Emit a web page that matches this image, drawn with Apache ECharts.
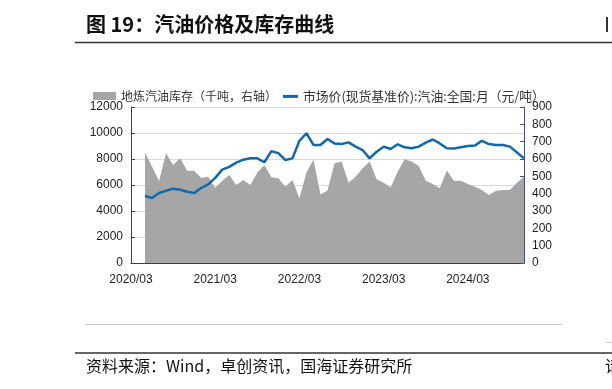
<!DOCTYPE html>
<html>
<head>
<meta charset="utf-8">
<script src="https://cdn.jsdelivr.net/npm/echarts@6/dist/echarts.min.js"></script>
<style>
html,body{margin:0;padding:0;background:#fff;}
#chart{width:612px;height:389px;}
</style>
</head>
<body>
<div id="chart"></div>
<script>
// Months 2020/03 .. 2024/11
var categories = [];
(function(){
  var y = 2020, m = 3;
  for (var i = 0; i < 57; i++) {
    categories.push(y + '/' + (m < 10 ? '0' + m : '' + m));
    m++; if (m > 12) { m = 1; y++; }
  }
})();

// 市场价(现货基准价):汽油:全国:月 (元/吨), left axis
var priceValues = [null, null,
  5150, 5000, 5380, 5560, 5720, 5640, 5480, 5390, 5770, 6050,
  6550, 7180, 7400, 7720, 7950, 8050, 8050, 7750, 8600, 8450,
  7920, 8050, 9400, 9980, 9080, 9080, 9540, 9200, 9150, 9280,
  8950, 8690, 8050, 8560, 8950, 8770, 9130, 8900, 8820, 8950,
  9260, 9500, 9200, 8820, 8800, 8900, 9000, 9030, 9400, 9150,
  9080, 9080, 8950, 8500, 8050];

// 地炼汽油库存 (千吨), right axis
var stockValues = [null, null,
  636, 555, 473, 633, 565, 604, 532, 532, 490, 498,
  434, 475, 508, 450, 479, 450, 522, 565, 495, 489,
  440, 479, 373, 522, 596, 395, 418, 575, 585, 463,
  498, 546, 585, 483, 463, 436, 527, 598, 585, 560,
  475, 456, 431, 533, 475, 475, 456, 440, 421, 392,
  417, 421, 421, 463, 498];

var leftTicks = {min: 0, max: 12000, interval: 2000};
var rightTicks = {min: 0, max: 900, interval: 100};

var stockName = '地炼汽油库存（千吨，右轴）';
var priceName = '市场价(现货基准价):汽油:全国:月（元/吨）';

var chart = echarts.init(document.getElementById('chart'), null, {renderer: 'canvas'});
var axisFont = {fontFamily: 'Liberation Sans, Arial, sans-serif', fontSize: 12, color: '#222'};
var cjk = '"Noto Sans CJK SC", sans-serif';
var plain = function(v){ return String(v); };

chart.setOption({
  animation: false,
  backgroundColor: '#fff',
  grid: {left: 131, right: 88, top: 107, bottom: 126, containLabel: false},
  legend: [
    {
      left: 88, top: 85, itemWidth: 23, itemHeight: 8, itemGap: 4,
      textStyle: {fontFamily: cjk, fontSize: 12, color: '#333'},
      data: [{name: stockName, icon: 'rect', itemStyle: {color: '#a6a6a6'}}]
    },
    {
      left: 278, top: 85, itemWidth: 15, itemHeight: 3, itemGap: 4,
      textStyle: {fontFamily: cjk, fontSize: 12.8, color: '#333'},
      data: [{name: priceName, icon: 'rect', itemStyle: {color: '#1268ad'}}]
    }
  ],
  xAxis: {
    type: 'category',
    data: categories,
    boundaryGap: false,
    axisLine: {lineStyle: {color: '#404040', width: 1}},
    axisTick: {inside: true, length: 4, lineStyle: {color: '#404040'},
      interval: function(i){ return i % 12 === 0; }},
    axisLabel: Object.assign({margin: 11, interval: function(i){ return i % 12 === 0; }}, axisFont),
    splitLine: {show: false}
  },
  yAxis: [
    {
      type: 'value', min: leftTicks.min, max: leftTicks.max, interval: leftTicks.interval,
      axisLine: {show: true, lineStyle: {color: '#404040', width: 1}},
      axisTick: {show: true, inside: true, length: 4, lineStyle: {color: '#404040'}},
      axisLabel: Object.assign({margin: 8, formatter: plain}, axisFont),
      splitLine: {show: true, lineStyle: {color: '#d9d9d9', width: 1}}
    },
    {
      type: 'value', min: rightTicks.min, max: rightTicks.max, interval: rightTicks.interval,
      position: 'right',
      axisLine: {show: true, lineStyle: {color: '#3a5189', width: 1}},
      axisTick: {show: true, inside: true, length: 4, lineStyle: {color: '#3a5189'}},
      axisLabel: Object.assign({margin: 8, formatter: plain}, axisFont),
      splitLine: {show: false}
    }
  ],
  series: [
    {
      name: stockName, type: 'line', yAxisIndex: 1, data: stockValues,
      symbol: 'none', showSymbol: false, connectNulls: false,
      lineStyle: {width: 0, color: '#a6a6a6'},
      itemStyle: {color: '#a6a6a6'},
      areaStyle: {color: '#a6a6a6', opacity: 1},
      z: 1
    },
    {
      name: priceName, type: 'line', yAxisIndex: 0, data: priceValues,
      symbol: 'none', showSymbol: false,
      lineStyle: {width: 2.5, color: '#1268ad'},
      itemStyle: {color: '#1268ad'},
      z: 3
    }
  ],
  graphic: [
    {type: 'text', left: 86, top: 14,
      style: {text: '图 19：汽油价格及库存曲线', font: 'bold 20px ' + cjk, fill: '#111'}},
    {type: 'line', shape: {x1: 75, y1: 42.5, x2: 612, y2: 42.5}, style: {stroke: '#333', lineWidth: 1.5}},
    {type: 'rect', shape: {x: 606, y: 17, width: 2, height: 15}, style: {fill: '#333'}},
    {type: 'line', shape: {x1: 85, y1: 324.5, x2: 562, y2: 324.5}, style: {stroke: '#c8c8c8', lineWidth: 1}},
    {type: 'line', shape: {x1: 606, y1: 342.5, x2: 612, y2: 342.5}, style: {stroke: '#c8c8c8', lineWidth: 1}},
    {type: 'line', shape: {x1: 75, y1: 353, x2: 612, y2: 353}, style: {stroke: '#333', lineWidth: 1.5}},
    {type: 'text', left: 86, top: 358,
      style: {text: '资料来源：Wind，卓创资讯，国海证券研究所', font: '16px ' + cjk, fill: '#111'}},
    {type: 'text', left: 605, top: 358,
      style: {text: '请', font: '16px ' + cjk, fill: '#111'}}
  ]
});
</script>
</body>
</html>
